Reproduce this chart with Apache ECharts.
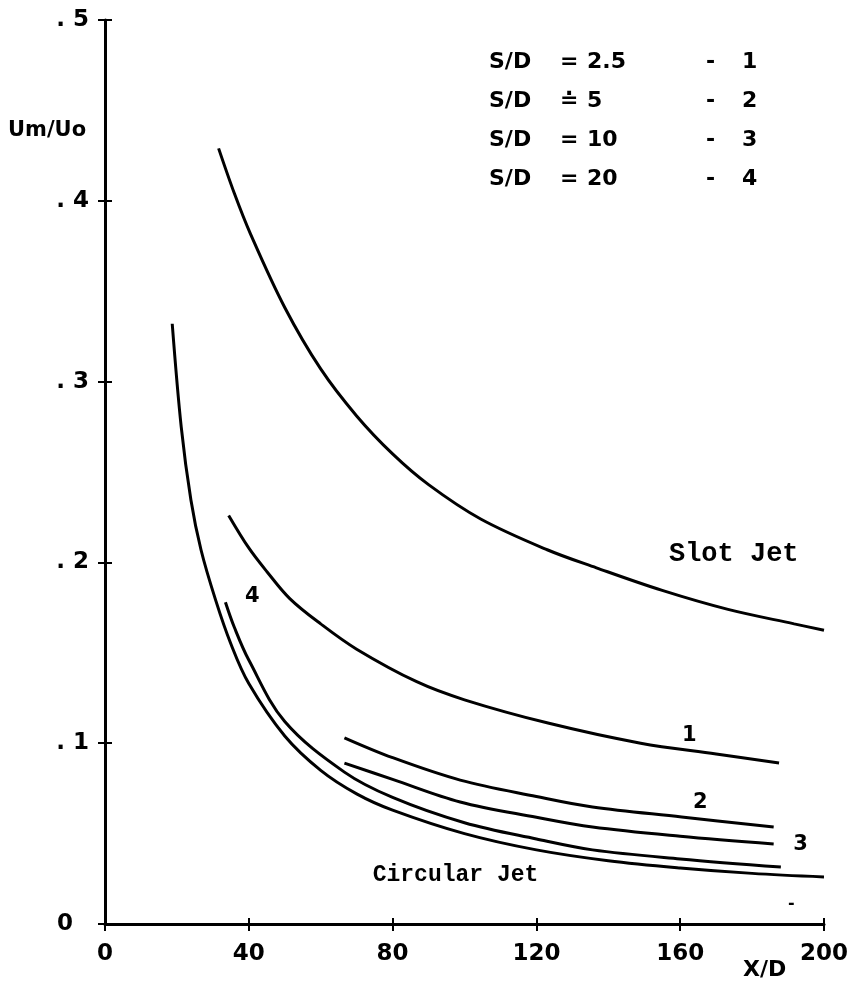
<!DOCTYPE html>
<html>
<head>
<meta charset="utf-8">
<script src="https://cdn.jsdelivr.net/npm/echarts@6/dist/echarts.min.js"></script>
<style>
  html, body { margin: 0; padding: 0; background: #fff; }
  #chart { width: 851px; height: 988px; }
</style>
</head>
<body>
<div id="chart"></div>
<script>
// values, [X/D, Um/Uo]
var slotJet = [[31.6, 0.429], [36, 0.404], [40.4, 0.382], [50, 0.341], [60, 0.307], [70, 0.281],
  [80, 0.260], [90, 0.243], [104.5, 0.224], [123, 0.207], [136.7, 0.197], [155, 0.1845],
  [173.3, 0.174], [191.7, 0.166], [200, 0.1625]];
var curve1 = [[34.4, 0.226], [40, 0.208], [45, 0.195], [51.4, 0.180], [60, 0.166], [70, 0.152],
  [86.7, 0.134], [100, 0.124], [123.5, 0.111], [149, 0.100], [170, 0.094], [187.5, 0.089]];
var curve2 = [[66.6, 0.103], [80, 0.092], [98.8, 0.0796], [120, 0.0705], [135.6, 0.0647],
  [160.4, 0.0592], [186, 0.0536]];
var curve3 = [[66.6, 0.089], [80, 0.080], [98.8, 0.0675], [120, 0.059], [135.6, 0.0536],
  [160, 0.0485], [186, 0.0442]];
var curve4 = [[33.5, 0.178], [36, 0.164], [40, 0.146], [50, 0.112], [66.6, 0.084], [80, 0.070],
  [100, 0.056], [120, 0.047], [135.6, 0.041], [160, 0.036], [188, 0.0315]];
var circularJet = [[18.7, 0.332], [21.2, 0.275], [23.9, 0.2345], [26.7, 0.207], [30.8, 0.179],
  [35, 0.155], [40, 0.133], [50, 0.104], [60, 0.085], [70, 0.072], [80, 0.063], [100, 0.050],
  [120, 0.041], [140, 0.035], [160, 0.031], [180, 0.028], [200, 0.026]];

var xTicks = ['0', '40', '80', '120', '160', '200'];
var yTicks = ['0  ', '. 1', '. 2', '. 3', '. 4', '. 5'];

// curve annotations placed in data space [X/D, Um/Uo, text]
var notes = [[162.5, 0.1045, '1'], [165.6, 0.0669, '2'], [193.5, 0.0437, '3'], [41, 0.181, '4']];
var slotNote = [[174.9, 0.2046, 'Slot Jet']];
var circNote = [[97.5, 0.0271, 'Circular Jet']];

var legendName = ['S/D', 'S/D', 'S/D', 'S/D'];
var legendSign = ['=', '\u2250', '=', '='];
var legendValue = ['2.5', '5', '10', '20'];
var legendCurve = ['1', '2', '3', '4'];

var plotFont = 'DejaVu Sans';
var ink = '#000';

function lineSeries(name, data) {
  return {
    name: name, type: 'line', data: data, showSymbol: false,
    smooth: 0.35, clip: false,
    lineStyle: { color: ink, width: 3 }
  };
}

function noteSeries(data, font, size) {
  return {
    type: 'scatter', symbolSize: 2, silent: true,
    itemStyle: { color: 'rgba(0,0,0,0)' },
    data: data,
    label: { show: true, position: 'inside', formatter: function (p) { return p.data[2]; },
      color: ink, opacity: 1, textBorderWidth: 0,
      fontFamily: font, fontWeight: 'bold', fontSize: size }
  };
}

function legendText(x, y, s) {
  return { type: 'text', left: x, top: y - 12,
    style: { text: s, font: 'bold 22px ' + plotFont, fill: ink } };
}

var legendGraphics = [];
for (var i = 0; i < legendName.length; i++) {
  var y = 63 + i * 39;
  legendGraphics.push(legendText(489, y, legendName[i]));
  legendGraphics.push(legendText(560, y, legendSign[i]));
  legendGraphics.push(legendText(587, y, legendValue[i]));
  legendGraphics.push(legendText(706, y, '-'));
  legendGraphics.push(legendText(742, y, legendCurve[i]));
}

var chart = echarts.init(document.getElementById('chart'));
chart.setOption({
  backgroundColor: '#fff',
  animation: false,
  grid: { left: 105, right: 21, top: 20, bottom: 64 },
  xAxis: [{
    type: 'value', min: 0, max: 200, interval: 40,
    axisLine: { lineStyle: { color: ink, width: 3 } },
    axisTick: { length: 7, lineStyle: { color: ink, width: 2 } },
    splitLine: { show: false },
    axisLabel: { margin: 19, color: ink, fontFamily: plotFont, fontWeight: 'bold', fontSize: 23,
      formatter: function (v) { return xTicks[Math.round(v / 40)]; } }
  }, {
    type: 'value', min: 0, max: 200, interval: 40, position: 'bottom',
    axisLine: { show: false },
    axisTick: { inside: true, length: 6, lineStyle: { color: ink, width: 2 } },
    axisLabel: { show: false }, splitLine: { show: false }
  }],
  yAxis: [{
    type: 'value', min: 0, max: 0.5, interval: 0.1,
    axisLine: { show: true, lineStyle: { color: ink, width: 3 } },
    axisTick: { show: true, length: 7, lineStyle: { color: ink, width: 2 } },
    splitLine: { show: false },
    axisLabel: { margin: 16, color: ink, fontFamily: plotFont, fontWeight: 'bold', fontSize: 23,
      formatter: function (v) { return yTicks[Math.round(v * 10)]; } }
  }, {
    type: 'value', min: 0, max: 0.5, interval: 0.1, position: 'left',
    axisLine: { show: false },
    axisTick: { show: true, inside: true, length: 7, lineStyle: { color: ink, width: 2 } },
    axisLabel: { show: false }, splitLine: { show: false }
  }],
  series: [
    lineSeries('Slot Jet', slotJet),
    lineSeries('S/D = 2.5', curve1),
    lineSeries('S/D = 5', curve2),
    lineSeries('S/D = 10', curve3),
    lineSeries('S/D = 20', curve4),
    lineSeries('Circular Jet', circularJet),
    noteSeries(notes, plotFont, 21),
    noteSeries(slotNote, 'Liberation Mono', 27),
    noteSeries(circNote, 'Liberation Mono', 23)
  ],
  graphic: legendGraphics.concat([
    { type: 'text', left: 8, top: 120,
      style: { text: 'Um/Uo', font: 'bold 21px ' + plotFont, fill: ink } },
    { type: 'text', left: 743, top: 959,
      style: { text: 'X/D', font: 'bold 22px ' + plotFont, fill: ink } },
    { type: 'text', left: 788, top: 896,
      style: { text: '-', font: 'bold 16px ' + plotFont, fill: ink } }
  ])
});
</script>
</body>
</html>
